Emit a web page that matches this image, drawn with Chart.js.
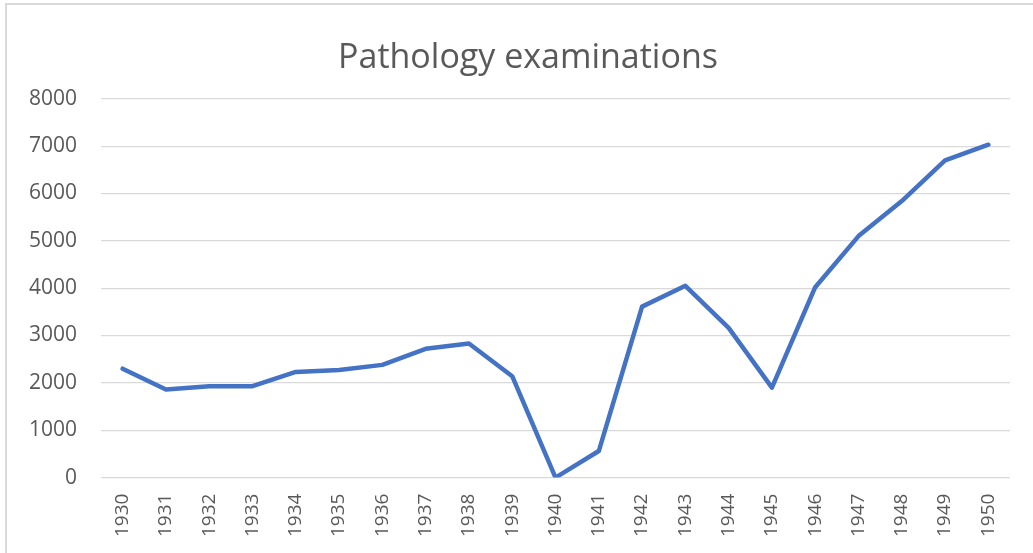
<!DOCTYPE html>
<html>
<head>
<meta charset="utf-8">
<script src="https://cdn.jsdelivr.net/npm/chart.js@4/dist/chart.umd.min.js"></script>
<style>
    html, body { margin: 0; padding: 0; background: #fff; }
    #frame {
        position: absolute; left: 5px; top: 3px;
        width: 1028px; height: 550px;
        border-left: 2px solid #d9d9d9;
        border-top: 2px solid #d9d9d9;
    }
    #wrap { position: absolute; left: 0; top: 0; width: 1026px; height: 548px; }
</style>
</head>
<body>
<div id="frame"><div id="wrap"><canvas id="exam-chart"></canvas></div></div>
<script>
// Chart data
const years = ['1930', '1931', '1932', '1933', '1934', '1935', '1936', '1937', '1938', '1939',
    '1940', '1941', '1942', '1943', '1944', '1945', '1946', '1947', '1948', '1949', '1950'];
const examinations = [2300, 1860, 1930, 1930, 2230, 2270, 2380, 2720, 2830, 2140,
    0, 560, 3610, 4050, 3160, 1900, 4020, 5100, 5840, 6700, 7030];
const yMin = 0;
const yMax = 8000;
const yStep = 1000;

const textColor = '#595959';
const gridColor = '#d9d9d9';

const ctx = document.getElementById('exam-chart').getContext('2d');
new Chart(ctx, {
    type: 'line',
    data: {
        labels: years,
        datasets: [{
            label: 'Pathology examinations',
            data: examinations,
            borderColor: '#4472c4',
            borderWidth: 4.5,
            borderJoinStyle: 'round',
            borderCapStyle: 'round',
            pointRadius: 0,
            tension: 0,
            fill: false
        }]
    },
    options: {
        responsive: true,
        maintainAspectRatio: false,
        animation: false,
        layout: {
            padding: { left: 20, right: 4, top: 0, bottom: 0 }
        },
        plugins: {
            legend: { display: false },
            tooltip: { enabled: false },
            title: {
                display: true,
                text: 'Pathology examinations',
                color: textColor,
                font: { family: 'Open Sans', size: 34, weight: 'normal' },
                padding: { top: 33, bottom: 20 }
            }
        },
        scales: {
            x: {
                offset: true,
                grid: { display: false, drawTicks: false },
                border: { display: false },
                ticks: {
                    color: textColor,
                    font: { family: 'Open Sans', size: 19 },
                    minRotation: 90,
                    maxRotation: 90,
                    padding: 16,
                    autoSkip: false
                }
            },
            y: {
                min: yMin,
                max: yMax,
                grid: { color: gridColor, lineWidth: 1.2, drawTicks: false },
                border: { display: false },
                ticks: {
                    stepSize: yStep,
                    color: textColor,
                    font: { family: 'Open Sans', size: 21 },
                    padding: 24,
                    callback: function (value) {
                        return String(value);
                    }
                },
                afterFit: function (axis) {
                    axis.width = 74;
                }
            },
            // empty spacer on the right so the plot ends where the original does
            // while the title stays centred like the original
            spacer: {
                type: 'linear',
                position: 'right',
                grid: { display: false, drawTicks: false },
                border: { display: false },
                ticks: { display: false },
                afterFit: function (axis) {
                    axis.width = 19;
                }
            }
        }
    }
});
</script>
</body>
</html>
